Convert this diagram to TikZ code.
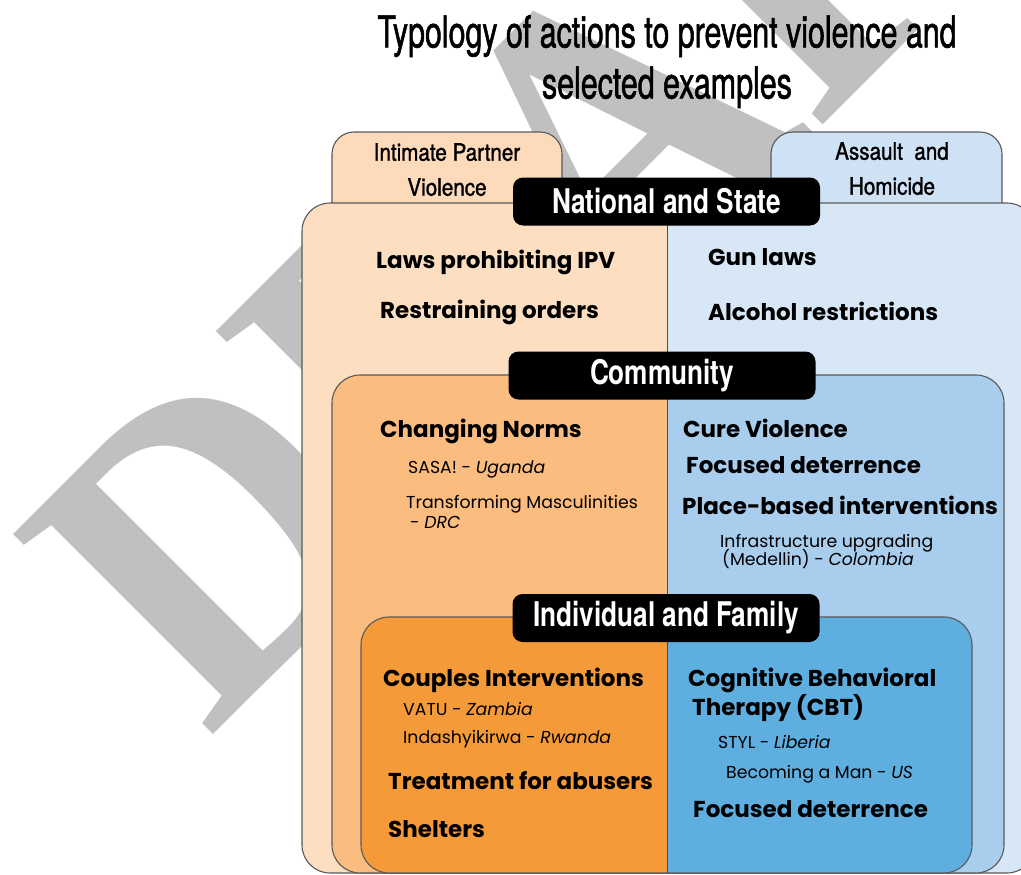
\documentclass[tikz,border=0pt]{standalone}
\usepackage{graphicx}
\usepackage{fontspec}
\setmainfont{Poppins}
\newfontfamily\condfont[FakeStretch=0.69, FakeBold=1.2]{TeX Gyre Heros}
\newfontfamily\tabfont[FakeStretch=0.86, FakeBold=1.2]{TeX Gyre Heros}
\newfontfamily\labelfont[FakeStretch=0.77]{TeX Gyre Heros}
\newfontfamily\markfont{Liberation Serif}
\definecolor{markgrey}{HTML}{C0C0C0}
\definecolor{ipvtab}{HTML}{FDDBBA}
\definecolor{ahtab}{HTML}{CFE2F5}
\definecolor{natL}{HTML}{FDDEC0}
\definecolor{natR}{HTML}{D8E7F6}
\definecolor{commL}{HTML}{FBBC7F}
\definecolor{commR}{HTML}{A8CDED}
\definecolor{indL}{HTML}{F59A38}
\definecolor{indR}{HTML}{5EAEE0}
\tikzset{
  panel/.style={draw=black!65, line width=1.1pt},
  divider/.style={draw=black!70, line width=0.9pt},
  levelbox/.style={fill=black, rounded corners=10pt, text=white, inner sep=0pt,
    minimum width=307pt, minimum height=48pt,
    font=\labelfont\bfseries\fontsize{34}{34}\selectfont},
  tabtext/.style={anchor=north, align=center, inner sep=0pt,
    font=\tabfont\fontsize{24}{35}\selectfont},
  item/.style={anchor=base west, inner sep=0pt, font=\bfseries\fontsize{23}{27}\selectfont},
  example/.style={anchor=base west, inner sep=0pt, font=\fontsize{17.3}{20}\selectfont},
}
\begin{document}
\begin{tikzpicture}[x=1pt, y=-1pt]
  \useasboundingbox (0,0) rectangle (1021,875);
  \clip (0,0) rectangle (1021,875);
  % watermark
  \node[rotate=45, anchor=base west, inner sep=0pt, text=markgrey] (draft) at (208,740)
    {\markfont\bfseries\fontsize{432}{432}\selectfont\scalebox{0.92}[1]{DRAFT}};
  \node[anchor=north, align=center, inner sep=0pt, font=\condfont\fontsize{44}{51}\selectfont] (title) at (667,15)
    {Typology of actions to prevent violence and\\selected examples};
  % tabs
  \draw[panel, fill=ipvtab, rounded corners=22pt] (332,132) rectangle (562,240);
  \draw[panel, fill=ahtab, rounded corners=22pt] (771,132) rectangle (1002,240);
  \node[tabtext] (ipvTab) at (447,143) {Intimate Partner\\Violence};
  \node[tabtext] (ahTab) at (892,142) {Assault~ and\\Homicide};
  % national and state
  \begin{scope}
    \clip[rounded corners=28pt] (302,203) rectangle (1035,873);
    \fill[natL] (302,203) rectangle (667,873);
    \fill[natR] (667,203) rectangle (1035,873);
  \end{scope}
  \draw[panel, rounded corners=28pt] (302,203) rectangle (1035,873);
  \draw[divider] (667,203) -- (667,375);
  \node[levelbox] (natLabel) at (666.5,201.5) {National and State};
  \node[item] (lawsIPV) at (376,268) {Laws prohibiting IPV};
  \node[item] (restrain) at (380,318) {Restraining orders};
  \node[item] (gunLaws) at (708,265) {Gun laws};
  \node[item] (alcohol) at (708,320) {Alcohol restrictions};
  % community
  \begin{scope}
    \clip[rounded corners=28pt] (332,375) rectangle (1004,873);
    \fill[commL] (332,375) rectangle (667,873);
    \fill[commR] (667,375) rectangle (1004,873);
  \end{scope}
  \draw[panel, rounded corners=28pt] (332,375) rectangle (1004,873);
  \draw[divider] (667,375) -- (667,617);
  \node[levelbox] (commLabel) at (662,375.5) {Community};
  \node[item] (normsHead) at (380,437) {Changing Norms};
  \node[example] (sasa) at (408,473) {SASA! - \textit{Uganda}};
  \node[example] (transform) at (406,508) {Transforming Masculinities};
  \node[example] (transformB) at (410,528) {- \textit{DRC}};
  \node[item] (cureViol) at (683,437) {Cure Violence};
  \node[item] (focusComm) at (686,473) {Focused deterrence};
  \node[item] (placeBased) at (682,514) {Place-based interventions};
  \node[example] (infra) at (720,547) {Infrastructure upgrading};
  \node[example] (infraB) at (722,565) {(Medellin) - \textit{Colombia}};
  % individual and family
  \begin{scope}
    \clip[rounded corners=28pt] (361,617) rectangle (972,873);
    \fill[indL] (361,617) rectangle (667,873);
    \fill[indR] (667,617) rectangle (972,873);
  \end{scope}
  \draw[panel, rounded corners=28pt] (361,617) rectangle (972,873);
  \draw[divider] (667,617) -- (667,873);
  \node[levelbox] (indivLabel) at (666,618) {Individual and Family};
  \node[item] (couples) at (383,686) {Couples Interventions};
  \node[example] (vatu) at (403,715) {VATU - \textit{Zambia}};
  \node[example] (indash) at (403,743) {Indashyikirwa - \textit{Rwanda}};
  \node[item] (treatment) at (388,789) {Treatment for abusers};
  \node[item] (shelters) at (388,837) {Shelters};
  \node[item] (cbt) at (688,686) {Cognitive Behavioral};
  \node[item] (cbtB) at (692,715) {Therapy (CBT)};
  \node[example] (styl) at (718,748) {STYL - \textit{Liberia}};
  \node[example] (bam) at (726,778) {Becoming a Man - \textit{US}};
  \node[item] (focusIndiv) at (693,817) {Focused deterrence};
\end{tikzpicture}
\end{document}
